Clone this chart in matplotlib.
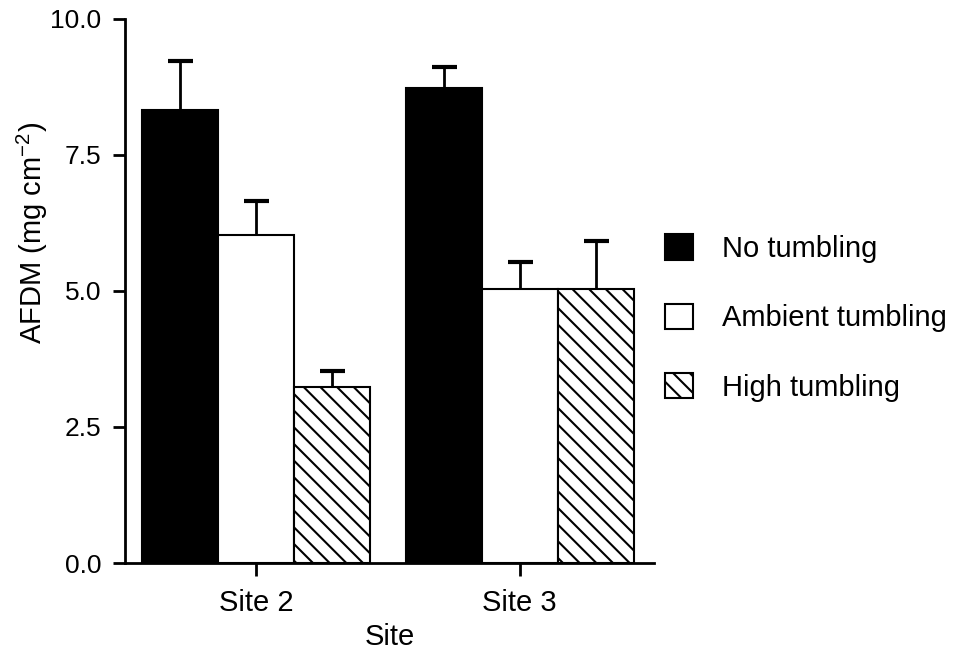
import matplotlib
matplotlib.use("Agg")
import matplotlib.pyplot as plt
import numpy as np

# AFDM by site and tumbling treatment (mean and upper error)
sites = ["Site 2", "Site 3"]
treatments = ["No tumbling", "Ambient tumbling", "High tumbling"]
no_tumbling = [8.33, 8.73]
ambient_tumbling = [6.02, 5.03]
high_tumbling = [3.23, 5.03]
no_tumbling_err = [0.89, 0.38]
ambient_tumbling_err = [0.63, 0.50]
high_tumbling_err = [0.30, 0.88]
yticks = [0.0, 2.5, 5.0, 7.5, 10.0]

plt.rcParams["font.family"] = ["Liberation Sans", "DejaVu Sans"]
plt.rcParams["hatch.linewidth"] = 1.5
plt.rcParams["hatch.color"] = "black"

fig = plt.figure(figsize=(9.6, 6.52), dpi=100)
ax = fig.add_axes([0.1302, 0.1365, 0.681 - 0.1302, 0.9709 - 0.1365])

x = np.arange(len(sites))
w = 0.288
series = [
    (no_tumbling, no_tumbling_err, "black", ""),
    (ambient_tumbling, ambient_tumbling_err, "white", ""),
    (high_tumbling, high_tumbling_err, "white", "\\\\"),
]
handles = []
for i, (vals, errs, fc, hatch) in enumerate(series):
    pos = x + (i - 1) * w
    vals = np.asarray(vals)
    errs = np.asarray(errs)
    b = ax.bar(pos, vals, width=w, color=fc, edgecolor="black", linewidth=1.5,
               hatch=hatch, label=treatments[i], zorder=2)
    # upper error only: stem plus a single cap at the top
    ax.vlines(pos, vals, vals + errs, color="black", linewidth=2.0, zorder=3)
    ax.plot(pos, vals + errs, linestyle="none", marker="_", markersize=18,
            markeredgewidth=3.0, color="black", zorder=3)
    handles.append(b)

ax.set_xlim(-0.496, 1.508)
ax.set_ylim(0, 10)
ax.set_yticks(yticks)
ax.set_yticklabels([f"{v:.1f}" for v in yticks])
ax.set_xticks(x)
ax.set_xticklabels(sites)

for s in ["top", "right"]:
    ax.spines[s].set_visible(False)
for s in ["left", "bottom"]:
    ax.spines[s].set_linewidth(2.0)
ax.tick_params(axis="both", direction="out", length=9, width=2.0)
ax.tick_params(axis="y", labelsize=19, pad=8)
ax.tick_params(axis="x", labelsize=21, pad=10)

ax.set_xlabel("Site", fontsize=21, labelpad=4)
ax.set_ylabel("AFDM (mg cm$^{\\mathregular{-2}}$)", fontsize=21)
ax.yaxis.set_label_coords(-0.141, 0.607)

fig.legend(handles=handles, labels=treatments, loc="center left",
           bbox_to_anchor=(0.693, 0.512), frameon=False, fontsize=21,
           handlelength=0.95, handleheight=0.95, handletextpad=1.0,
           labelspacing=1.4, borderpad=0, borderaxespad=0)

fig.savefig("out.png", dpi=100)
